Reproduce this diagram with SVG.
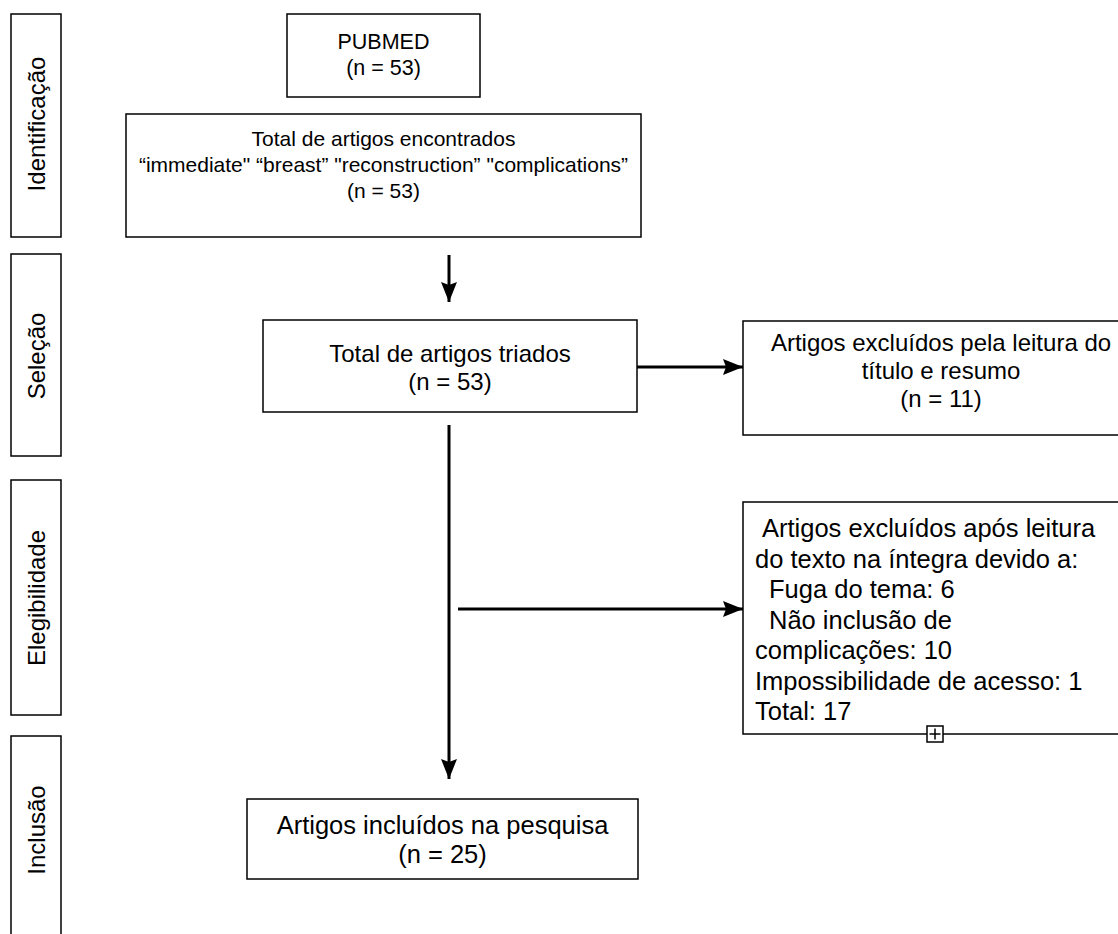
<svg xmlns="http://www.w3.org/2000/svg" width="1118" height="934" viewBox="0 0 1118 934">
<defs>
<style>
.box{fill:#fff;stroke:#000;stroke-width:1.5}
.t{font-family:"Liberation Sans",Arial,Helvetica,sans-serif;fill:#000}
.c{text-anchor:middle}
.s{font-size:24px}
.m{font-size:21.5px}
.n{font-size:21px}
.l{font-size:24px}
.i{font-size:25.5px}
.r1{font-size:24px}
.r2{font-size:25.5px}
.e{stroke:#000;stroke-width:3;fill:none}
</style>
<marker id="ah" viewBox="0 0 20 16" refX="20" refY="8" markerWidth="20" markerHeight="16" markerUnits="userSpaceOnUse" orient="auto">
<path d="M0,0 L20,8 L0,16 L3,8 z" fill="#000"/>
</marker>
</defs>
<rect width="1118" height="934" fill="#fff"/>
<g id="phase-identificacao">
<rect class="box" x="11" y="14" width="50" height="223"/>
<text class="t c s" transform="translate(45,124) rotate(-90)">Identificação</text>
</g>
<g id="phase-selecao">
<rect class="box" x="11" y="254" width="50" height="202"/>
<text class="t c s" transform="translate(45,356) rotate(-90)">Seleção</text>
</g>
<g id="phase-elegibilidade">
<rect class="box" x="11" y="480" width="50" height="235"/>
<text class="t c s" transform="translate(45,598) rotate(-90)">Elegibilidade</text>
</g>
<g id="phase-inclusao">
<rect class="box" x="11" y="736" width="50" height="210"/>
<text class="t c s" transform="translate(45,830) rotate(-90)">Inclusão</text>
</g>
<g id="pubmed">
<rect class="box" x="287" y="14" width="193" height="83"/>
<text class="t c m" x="383.5" y="49">PUBMED</text>
<text class="t c m" x="383.5" y="75">(n = 53)</text>
</g>
<g id="encontrados">
<rect class="box" x="126" y="114" width="515" height="123"/>
<text class="t c n" x="383.5" y="146">Total de artigos encontrados</text>
<text class="t c n" x="383.5" y="172">“immediate" “breast” "reconstruction” "complications”</text>
<text class="t c n" x="383.5" y="198">(n = 53)</text>
</g>
<g id="triados">
<rect class="box" x="263" y="320" width="374" height="92"/>
<text class="t c l" x="450" y="362">Total de artigos triados</text>
<text class="t c l" x="450" y="390">(n = 53)</text>
</g>
<g id="excluidos-titulo">
<rect class="box" x="743" y="321" width="400" height="114"/>
<text class="t c r1" x="941" y="351">Artigos excluídos pela leitura do</text>
<text class="t c r1" x="941" y="379">título e resumo</text>
<text class="t c r1" x="941" y="407">(n = 11)</text>
</g>
<g id="excluidos-integra">
<rect class="box" x="743" y="502" width="400" height="232"/>
<text class="t r2" x="762" y="537">Artigos excluídos após leitura</text>
<text class="t r2" x="755" y="567.5">do texto na íntegra devido a:</text>
<text class="t r2" x="769" y="598">Fuga do tema: 6</text>
<text class="t r2" x="769" y="628.5">Não inclusão de</text>
<text class="t r2" x="755" y="659">complicações: 10</text>
<text class="t r2" x="755" y="689.5">Impossibilidade de acesso: 1</text>
<text class="t r2" x="755" y="720">Total: 17</text>
<rect x="927" y="726" width="16" height="16" fill="#fff" stroke="#000" stroke-width="1.5"/>
<path d="M929.5,734 H940.5 M935,728.5 V739.5" stroke="#000" stroke-width="1.5"/>
</g>
<g id="incluidos">
<rect class="box" x="247" y="799" width="391" height="80"/>
<text class="t c i" x="442.5" y="834">Artigos incluídos na pesquisa</text>
<text class="t c i" x="442.5" y="863">(n = 25)</text>
</g>
<g id="connectors">
<line class="e" x1="449" y1="255" x2="449" y2="302" marker-end="url(#ah)"/>
<line class="e" x1="637" y1="367" x2="743" y2="367" marker-end="url(#ah)"/>
<line class="e" x1="449" y1="425" x2="449" y2="779" marker-end="url(#ah)"/>
<line class="e" x1="458" y1="609" x2="743" y2="609" marker-end="url(#ah)"/>
</g>
</svg>
